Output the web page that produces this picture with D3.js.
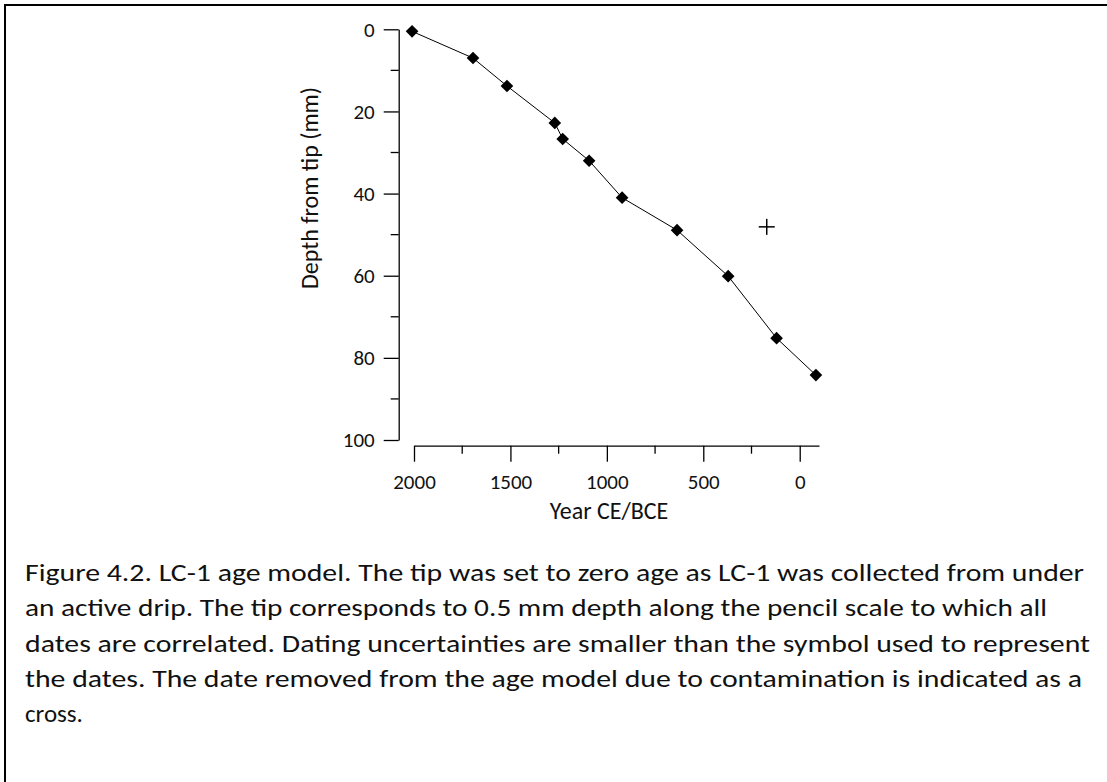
<!DOCTYPE html>
<html>
<head>
<meta charset="utf-8">
<script src="https://cdn.jsdelivr.net/npm/d3@7"></script>
<style>
  body { margin: 0; background: #fff; }
  svg { font-family: Carlito, Calibri, Lato, sans-serif; }
</style>
</head>
<body>
<svg id="chart"></svg>
<script>
// Age model dates (year CE/BCE, depth from tip in mm)
const years = [2010, 1694, 1518, 1270, 1229, 1092, 921, 636, 371, 120, -84];
const depths = [0.5, 7, 13.8, 22.8, 26.7, 32, 41, 48.9, 60.1, 75.2, 84.2];

// date removed because of contamination
const removedYear = [171];
const removedDepth = [48.1];

const xTicks = [2000, 1500, 1000, 500, 0];
const xMinor = [1750, 1250, 750, 250];
const yTicks = [0, 20, 40, 60, 80, 100];
const yMinor = [10, 30, 50, 70, 90];

const captionLines = [
    "Figure 4.2. LC-1 age model. The tip was set to zero age as LC-1 was collected from under",
    "an active drip. The tip corresponds to 0.5 mm depth along the pencil scale to which all",
    "dates are correlated. Dating uncertainties are smaller than the symbol used to represent",
    "the dates. The date removed from the age model due to contamination is indicated as a",
    "cross."
];
const captionWidths = [1059, 1022, 1065, 1057, null];

const width = 1107, height = 782;

const svg = d3.select('#chart')
    .attr('width', width)
    .attr('height', height);

// frame (top and left edge only, the rest is cut off)
svg.append('path')
    .attr('d', `M5,${height} L5,5 L${width},5`)
    .attr('fill', 'none')
    .attr('stroke', '#000')
    .attr('stroke-width', 2);

const xScale = d3.scaleLinear()
    .domain([2000, -100])
    .range([414, 819]);

const yScale = d3.scaleLinear()
    .domain([0, 100])
    .range([29.3, 440]);

const yAxisX = 398.7;
const xAxisY = 445.7;
const fmt = d3.format('d');

// y axis
const yAxisG = svg.append('g')
    .attr('transform', `translate(${yAxisX},0)`)
    .call(d3.axisLeft(yScale).tickValues(yTicks).tickFormat(fmt)
        .tickSize(15).tickPadding(9).tickSizeOuter(0));
yAxisG.selectAll('.minor')
    .data(yMinor)
    .join('line')
    .attr('class', 'minor')
    .attr('y1', d => yScale(d))
    .attr('y2', d => yScale(d))
    .attr('x2', -8)
    .attr('stroke', '#000');

// x axis
const xAxisG = svg.append('g')
    .attr('transform', `translate(0,${xAxisY})`)
    .call(d3.axisBottom(xScale).tickValues(xTicks).tickFormat(fmt)
        .tickSize(16).tickPadding(12).tickSizeOuter(0));
xAxisG.selectAll('.minor')
    .data(xMinor)
    .join('line')
    .attr('class', 'minor')
    .attr('x1', d => xScale(d))
    .attr('x2', d => xScale(d))
    .attr('y2', 8)
    .attr('stroke', '#000');

svg.selectAll('.tick text')
    .attr('font-size', 21)
    .attr('font-family', 'Carlito, Calibri, Lato, sans-serif')
    .attr('fill', '#111');
svg.selectAll('.domain, .tick line, .minor').attr('stroke-width', 1.3);

// axis titles
svg.append('text')
    .attr('x', 609)
    .attr('y', 519)
    .attr('text-anchor', 'middle')
    .attr('font-size', 24)
    .attr('fill', '#111')
    .text('Year CE/BCE');

svg.append('text')
    .attr('transform', 'translate(318,188) rotate(-90)')
    .attr('text-anchor', 'middle')
    .attr('font-size', 24)
    .attr('fill', '#111')
    .text('Depth from tip (mm)');

// age model line
const points = years.map((y, i) => ({year: y, depth: depths[i]}));
const line = d3.line()
    .x(d => xScale(d.year))
    .y(d => yScale(d.depth));

svg.append('path')
    .datum(points)
    .attr('d', line)
    .attr('fill', 'none')
    .attr('stroke', '#000')
    .attr('stroke-width', 1);

svg.selectAll('.date')
    .data(points)
    .join('path')
    .attr('class', 'date')
    .attr('d', d3.symbol().type(d3.symbolSquare).size(80))
    .attr('transform', d => `translate(${xScale(d.year)},${yScale(d.depth)}) rotate(45)`)
    .attr('fill', '#000');

// removed date drawn as a cross
const removed = removedYear.map((y, i) => ({year: y, depth: removedDepth[i]}));
const cross = svg.selectAll('.removed')
    .data(removed)
    .join('g')
    .attr('class', 'removed')
    .attr('transform', d => `translate(${xScale(d.year)},${yScale(d.depth)})`);
cross.append('line').attr('x1', -8).attr('x2', 8).attr('stroke', '#000').attr('stroke-width', 1.5);
cross.append('line').attr('y1', -8).attr('y2', 8).attr('stroke', '#000').attr('stroke-width', 1.5);

// caption
svg.selectAll('.caption')
    .data(captionLines)
    .join('text')
    .attr('class', 'caption')
    .attr('x', 25)
    .attr('y', (d, i) => 581 + i * 35.3)
    .attr('font-size', 25)
    .attr('fill', '#111')
    .each(function (d, i) {
        if (captionWidths[i]) {
            d3.select(this)
                .attr('textLength', captionWidths[i])
                .attr('lengthAdjust', 'spacingAndGlyphs');
        }
    })
    .text(d => d);
</script>
</body>
</html>
